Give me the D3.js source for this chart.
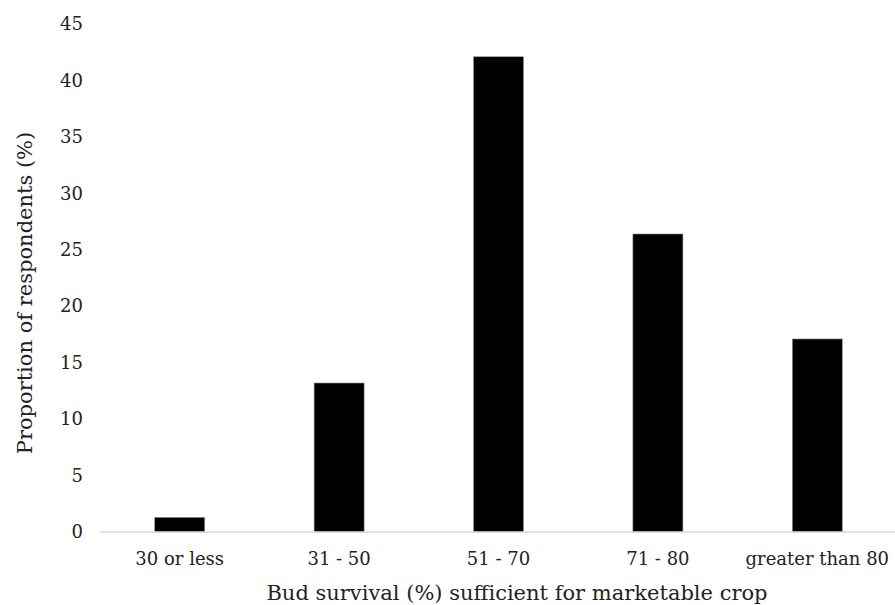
<!DOCTYPE html>
<html>
<head>
<meta charset="utf-8">
<script src="https://cdn.jsdelivr.net/npm/d3@7"></script>
<style>
  html, body { margin: 0; padding: 0; background: #fff; }
  svg { display: block; }
  text { font-family: "DejaVu Serif", "Liberation Serif", serif; fill: #222; }
</style>
</head>
<body>
<svg id="chart" width="895" height="605"></svg>
<script>
const categories = ["30 or less", "31 - 50", "51 - 70", "71 - 80", "greater than 80"];
const values = [1.3, 13.2, 42.1, 26.4, 17.1];
const yTicks = [0, 5, 10, 15, 20, 25, 30, 35, 40, 45];
const xTitle = "Bud survival (%) sufficient for marketable crop";
const yTitle = "Proportion of respondents (%)";

(function () {
const svg = d3.select("#chart");
const mLeft = 100, mRight = 897, mTop = 24, mBottom = 532;

const x = d3.scaleBand().domain(categories).range([mLeft, mRight])
  .paddingInner(0.686).paddingOuter(0.343);
const y = d3.scaleLinear().domain([0, 45]).range([mBottom, mTop]);

// bars
svg.append("g").selectAll("rect").data(values).join("rect")
  .attr("x", (d, i) => x(categories[i]))
  .attr("width", x.bandwidth())
  .attr("y", d => y(d))
  .attr("height", d => y(0) - y(d))
  .attr("fill", "#000")
  .attr("stroke", "#999")
  .attr("stroke-width", 0.6);

// x axis baseline
const xAxis = d3.axisBottom(x).tickSize(0).tickPadding(20);
const gx = svg.append("g").attr("transform", `translate(0,${mBottom})`).call(xAxis);
gx.attr("font-family", null).attr("font-size", null);
gx.select(".domain").attr("stroke", "#d9d9d9").attr("stroke-width", 1.3)
  .attr("d", `M${mLeft},0H895`);
gx.selectAll("text").style("font-size", "18px").attr("fill", "#222");

// y axis labels
const yAxis = d3.axisLeft(y).tickValues(yTicks).tickSize(0).tickPadding(0);
const gy = svg.append("g").attr("transform", `translate(83,0)`).call(yAxis);
gy.attr("font-family", null).attr("font-size", null);
gy.select(".domain").remove();
gy.selectAll("text").style("font-size", "18px").attr("fill", "#222");

// titles
svg.append("text").attr("x", 517).attr("y", 600)
  .attr("text-anchor", "middle").style("font-size", "21px").text(xTitle);
svg.append("text").attr("transform", "translate(32,293) rotate(-90)")
  .attr("text-anchor", "middle").style("font-size", "21px").text(yTitle);
})();
</script>
</body>
</html>
